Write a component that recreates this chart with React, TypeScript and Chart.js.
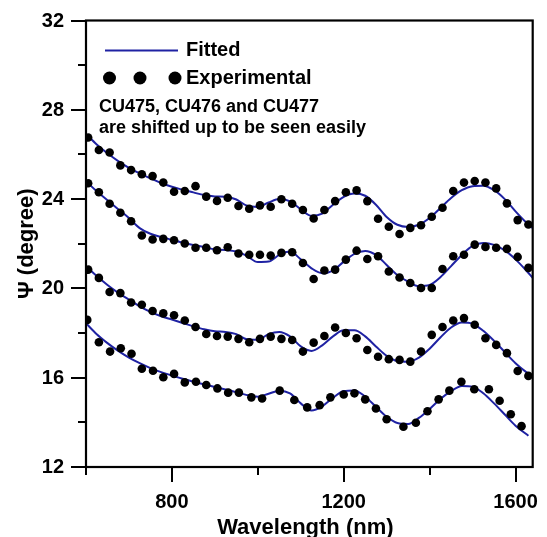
import React, { useEffect, useRef } from "react";
import { Chart, registerables } from "chart.js";

Chart.register(...registerables);

// Experimental points (three upper samples share one wavelength grid)
const expX = [605, 630, 655, 680, 705, 730, 755, 780, 805, 830, 855, 880, 905, 930, 955, 980, 1005, 1030, 1055, 1080, 1105, 1130, 1155, 1180, 1205, 1230, 1255, 1280, 1305, 1330, 1355, 1380, 1405, 1430, 1455, 1480, 1505, 1530, 1555, 1580, 1605, 1630];
const expCU477 = [26.76, 26.2, 26.09, 25.51, 25.3, 25.11, 25.03, 24.74, 24.33, 24.36, 24.58, 24.11, 23.92, 24.06, 23.69, 23.57, 23.72, 23.66, 23.99, 23.79, 23.51, 23.13, 23.51, 23.91, 24.31, 24.39, 23.91, 23.12, 22.76, 22.44, 22.71, 22.83, 23.21, 23.61, 24.36, 24.74, 24.81, 24.74, 24.48, 23.81, 23.06, 22.86];
const expCU476 = [24.71, 24.31, 23.79, 23.39, 23.01, 22.37, 22.19, 22.22, 22.16, 22.01, 21.82, 21.82, 21.71, 21.84, 21.56, 21.51, 21.51, 21.47, 21.59, 21.62, 21.14, 20.42, 20.8, 20.84, 21.29, 21.69, 21.32, 21.44, 20.76, 20.49, 20.24, 20.02, 20.02, 20.87, 21.44, 21.51, 21.96, 21.86, 21.82, 21.77, 21.41, 20.92];
const expCU475 = [20.84, 20.47, 19.84, 19.79, 19.37, 19.27, 18.99, 18.88, 18.8, 18.56, 18.27, 17.96, 17.87, 17.84, 17.74, 17.59, 17.74, 17.84, 17.74, 17.69, 17.17, 17.57, 17.87, 18.25, 18.0, 17.77, 17.24, 16.94, 16.83, 16.8, 16.72, 17.17, 17.92, 18.27, 18.56, 18.67, 18.37, 17.77, 17.47, 17.1, 16.3, 16.08];
// Lowest sample has its own grid
const expXBase = [603, 630, 656, 681, 706, 730, 756, 780, 805, 830, 856, 880, 906, 931, 956, 985, 1010, 1051, 1085, 1115, 1144, 1169, 1200, 1225, 1250, 1275, 1300, 1339, 1368, 1395, 1421, 1446, 1474, 1504, 1538, 1563, 1589, 1614];
const expBase = [18.59, 17.59, 17.17, 17.32, 17.07, 16.4, 16.31, 16.02, 16.17, 15.79, 15.82, 15.67, 15.52, 15.33, 15.33, 15.12, 15.07, 15.42, 15.0, 14.67, 14.77, 15.12, 15.25, 15.3, 15.03, 14.62, 14.14, 13.8, 13.98, 14.5, 15.03, 15.42, 15.82, 15.48, 15.48, 14.97, 14.36, 13.83];

// Fitted curves
const fitX = [600, 625, 650, 675, 700, 725, 750, 775, 800, 825, 850, 875, 900, 925, 950, 975, 1000, 1025, 1050, 1075, 1100, 1125, 1150, 1175, 1200, 1225, 1250, 1275, 1300, 1325, 1350, 1375, 1400, 1425, 1450, 1475, 1500, 1525, 1550, 1575, 1600, 1625, 1640];
const fitCU477 = [26.92, 26.45, 26.05, 25.7, 25.4, 25.15, 24.93, 24.72, 24.55, 24.42, 24.3, 24.18, 24.12, 24.1, 23.98, 23.7, 23.65, 23.85, 24.0, 23.9, 23.55, 23.25, 23.35, 23.75, 24.1, 24.25, 24.15, 23.75, 23.2, 22.85, 22.75, 22.85, 23.15, 23.6, 24.05, 24.4, 24.58, 24.6, 24.4, 24.0, 23.45, 22.95, 22.7];
const fitCU476 = [24.8, 24.35, 23.95, 23.55, 23.15, 22.7, 22.45, 22.3, 22.18, 22.05, 21.95, 21.85, 21.75, 21.72, 21.65, 21.45, 21.18, 21.2, 21.5, 21.65, 21.3, 20.9, 20.68, 20.8, 21.2, 21.55, 21.68, 21.5, 21.05, 20.6, 20.3, 20.1, 20.15, 20.5, 21.0, 21.5, 21.9, 22.03, 21.95, 21.7, 21.3, 20.8, 20.47];
const fitCU475 = [20.99, 20.55, 20.15, 19.8, 19.5, 19.2, 18.95, 18.75, 18.6, 18.45, 18.3, 18.17, 18.08, 18.05, 17.95, 17.72, 17.7, 17.95, 18.05, 17.85, 17.4, 17.2, 17.45, 17.85, 18.12, 18.12, 17.85, 17.4, 16.98, 16.75, 16.72, 16.9, 17.3, 17.8, 18.25, 18.47, 18.42, 18.1, 17.65, 17.15, 16.65, 16.25, 16.05];
const fitXBase = [600, 625, 650, 675, 700, 725, 750, 775, 800, 825, 850, 875, 900, 925, 950, 975, 1000, 1025, 1050, 1075, 1100, 1125, 1150, 1175, 1200, 1225, 1250, 1275, 1300, 1325, 1350, 1375, 1400, 1425, 1450, 1475, 1500, 1525, 1550, 1575, 1600, 1630];
const fitBase = [18.44, 17.95, 17.55, 17.2, 16.9, 16.65, 16.43, 16.25, 16.1, 15.95, 15.82, 15.7, 15.58, 15.47, 15.35, 15.22, 15.15, 15.28, 15.42, 15.3, 14.85, 14.53, 14.72, 15.1, 15.4, 15.43, 15.15, 14.7, 14.25, 13.97, 13.93, 14.2, 14.6, 15.05, 15.4, 15.63, 15.6, 15.3, 14.85, 14.35, 13.85, 13.4];

// Axis ticks and text
const xLabelTicks = [800, 1200, 1600];
const xMinorTicks = [600, 1000, 1400];
const yLabelTicks = [12, 16, 20, 24, 28, 32];
const yMinorTicks = [14, 18, 22, 26, 30];
const xTitle = "Wavelength (nm)";
const yTitle = "\u03A8 (degree)";
const legendFitted = "Fitted";
const legendExperimental = "Experimental";
const noteLines = ["CU475, CU476 and CU477", "are shifted up to be seen easily"];

const FONT = "'Liberation Sans', Arial, Helvetica, sans-serif";
const LINE_COLOR = "#1f22a3";

const toXY = (xs: number[], ys: number[]) => xs.map((x, i) => ({ x, y: ys[i] }));

const decorPlugin = {
  id: "decor",
  afterDraw(chart: any) {
    const { ctx, chartArea: a } = chart;
    const xs = chart.scales.x;
    const ys = chart.scales.y;
    ctx.save();
    ctx.strokeStyle = "#000";
    ctx.lineWidth = 2.2;
    ctx.strokeRect(a.left, a.top, a.right - a.left, a.bottom - a.top);
    ctx.lineWidth = 2;
    ctx.beginPath();
    xLabelTicks.forEach((v) => {
      const p = Math.round(xs.getPixelForValue(v));
      ctx.moveTo(p, a.bottom);
      ctx.lineTo(p, a.bottom + 15);
    });
    xMinorTicks.forEach((v) => {
      const p = Math.round(xs.getPixelForValue(v));
      ctx.moveTo(p, a.bottom);
      ctx.lineTo(p, a.bottom + 8);
    });
    yLabelTicks.forEach((v) => {
      const p = Math.round(ys.getPixelForValue(v));
      ctx.moveTo(a.left, p);
      ctx.lineTo(a.left - 15, p);
    });
    yMinorTicks.forEach((v) => {
      const p = Math.round(ys.getPixelForValue(v));
      ctx.moveTo(a.left, p);
      ctx.lineTo(a.left - 8, p);
    });
    ctx.stroke();

    // tick labels
    ctx.fillStyle = "#000";
    ctx.font = `bold 20px ${FONT}`;
    ctx.textAlign = "center";
    ctx.textBaseline = "alphabetic";
    xLabelTicks.forEach((v) => {
      ctx.fillText(String(v), xs.getPixelForValue(v), 508);
    });
    ctx.textAlign = "right";
    ctx.textBaseline = "middle";
    yLabelTicks.forEach((v) => {
      ctx.fillText(String(v), a.left - 22, ys.getPixelForValue(v) + 0.5);
    });

    // axis titles
    ctx.font = `bold 22px ${FONT}`;
    ctx.textAlign = "center";
    ctx.textBaseline = "alphabetic";
    ctx.fillText(xTitle, (a.left + a.right) / 2 - 4, 534);
    ctx.save();
    ctx.translate(27, (a.top + a.bottom) / 2);
    ctx.rotate(-Math.PI / 2);
    ctx.textBaseline = "middle";
    ctx.fillText(yTitle, 0, 0);
    ctx.restore();

    // legend
    ctx.strokeStyle = LINE_COLOR;
    ctx.lineWidth = 2;
    ctx.beginPath();
    ctx.moveTo(105, 50.5);
    ctx.lineTo(178, 50.5);
    ctx.stroke();
    ctx.fillStyle = "#000";
    [109.5, 140, 175].forEach((cx) => {
      ctx.beginPath();
      ctx.arc(cx, 78, 6.5, 0, Math.PI * 2);
      ctx.fill();
    });
    ctx.textBaseline = "middle";
    ctx.textAlign = "left";
    ctx.font = `bold 20px ${FONT}`;
    ctx.fillText(legendFitted, 186, 50);
    ctx.fillText(legendExperimental, 186, 78);
    ctx.font = `bold 18px ${FONT}`;
    ctx.fillText(noteLines[0], 99, 107);
    ctx.fillText(noteLines[1], 99, 128);
    ctx.restore();
  },
};

export default function App() {
  const ref = useRef<HTMLCanvasElement | null>(null);

  useEffect(() => {
    if (!ref.current) return;
    const dot = (data: { x: number; y: number }[]) => ({
      type: "scatter" as const,
      data,
      showLine: false,
      pointRadius: 4.3,
      pointBackgroundColor: "#000",
      pointBorderWidth: 0,
      order: 0,
    });
    const fit = (data: { x: number; y: number }[]) => ({
      type: "line" as const,
      data,
      showLine: true,
      borderColor: LINE_COLOR,
      borderWidth: 2,
      pointRadius: 0,
      fill: false,
      cubicInterpolationMode: "monotone" as const,
      order: 1,
    });
    const chart = new Chart(ref.current, {
      type: "scatter",
      data: {
        datasets: [
          dot(toXY(expX, expCU477)),
          dot(toXY(expX, expCU476)),
          dot(toXY(expX, expCU475)),
          dot(toXY(expXBase, expBase)),
          fit(toXY(fitX, fitCU477)),
          fit(toXY(fitX, fitCU476)),
          fit(toXY(fitX, fitCU475)),
          fit(toXY(fitXBase, fitBase)),
        ] as any,
      },
      options: {
        animation: false,
        responsive: false,
        layout: { padding: { top: 20.5, right: 14.3, bottom: 0, left: 0 } },
        plugins: { legend: { display: false }, tooltip: { enabled: false } },
        scales: {
          x: {
            type: "linear",
            min: 600,
            max: 1640,
            afterFit: (s: any) => {
              s.height = 70;
            },
            grid: { display: false, drawTicks: false },
            border: { display: false },
            ticks: { display: false, stepSize: 200 },
            title: { display: false },
          },
          y: {
            type: "linear",
            min: 12,
            max: 32,
            afterFit: (s: any) => {
              s.width = 86;
            },
            grid: { display: false, drawTicks: false },
            border: { display: false },
            ticks: { display: false, stepSize: 2 },
            title: { display: false },
          },
        },
      },
      plugins: [decorPlugin],
    });
    return () => chart.destroy();
  }, []);

  return (
    <div style={{ position: "fixed", left: 0, top: 0, width: 547, height: 537, background: "#fff" }}>
      <canvas ref={ref} width={547} height={537} style={{ width: 547, height: 537, display: "block" }} />
    </div>
  );
}
